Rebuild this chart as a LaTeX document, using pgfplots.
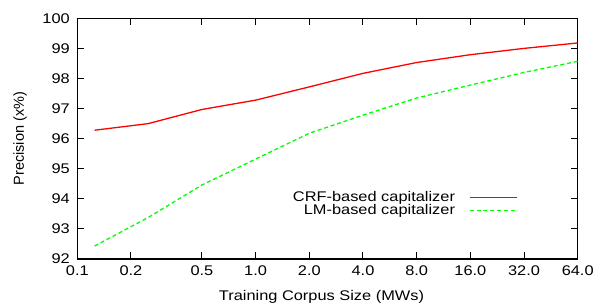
\documentclass[border=0pt]{standalone}
\usepackage{fontspec}
\setmainfont{Liberation Sans}[FakeStretch=1.17]
\newfontfamily\ylabfont{Liberation Sans}
\usepackage{pgfplots}
\pgfplotsset{compat=1.18}
\begin{document}
\begin{tikzpicture}[font=\fontsize{14bp}{16bp}\selectfont]
\begin{axis}[
  at={(0,0)}, anchor=south west,
  scale only axis, width=500.4bp, height=240.7bp,
  xmode=log, xmin=0.1, xmax=64, ymin=92, ymax=100,
  xtick={0.1,0.2,0.5,1,2,4,8,16,32,64},
  xticklabels={0.1,0.2,0.5,1.0,2.0,4.0,8.0,16.0,32.0,64.0},
  ytick={92,93,...,100},
  xminorticks=false, yminorticks=false,
  /pgf/number format/assume math mode=true,
  tick align=inside, major tick length=7bp,
  every tick/.style={black, line width=1bp},
  axis line style={line width=1.2bp},
  yticklabel style={xshift=-4bp},
  xticklabel style={yshift=-3bp},
  xlabel={Training Corpus Size (MWs)},
  xlabel style={at={(axis description cs:0.488,0)}, anchor=base, yshift=-41bp},
  ylabel={\ylabfont\fontsize{14.5bp}{16bp}\selectfont Precision (x\%)},
  ylabel style={at={([xshift=-53.3bp]axis description cs:0,0.5)}, anchor=base},
  legend cell align=right,
  legend plot pos=right,
  legend style={at={(axis description cs:0.8813,0.2285)}, anchor=east,
    draw=none, fill=none, inner sep=0pt, column sep=14bp, row sep=0pt,
    nodes={inner sep=0pt, text height=10bp, text depth=3bp}},
]
\addplot[red, line width=1.3bp,
  legend image code/.code={\draw[red, line width=1.5bp] (0bp,0bp) -- (47.6bp,0bp);}]
  coordinates {
  (0.125,96.28) (0.25,96.5) (0.5,96.97) (1,97.28) (2,97.72)
  (4,98.17) (8,98.53) (16,98.79) (32,99.0) (64,99.18)};
\addlegendentry{CRF-based capitalizer}
\addplot[green, line width=1.3bp, dash pattern=on 4bp off 2.8bp,
  legend image code/.code={\draw[green, line width=1.5bp, dash pattern=on 4bp off 2.8bp] (0bp,0bp) -- (47.6bp,0bp);}]
  coordinates {
  (0.125,92.43) (0.25,93.38) (0.5,94.46) (1,95.32) (2,96.18)
  (4,96.78) (8,97.35) (16,97.78) (32,98.2) (64,98.57)};
\addlegendentry{LM-based capitalizer}
\end{axis}
\pgfresetboundingbox
\path[use as bounding box] (-77.3bp,-44bp) rectangle (517.7bp,259bp);
\end{tikzpicture}
\end{document}
